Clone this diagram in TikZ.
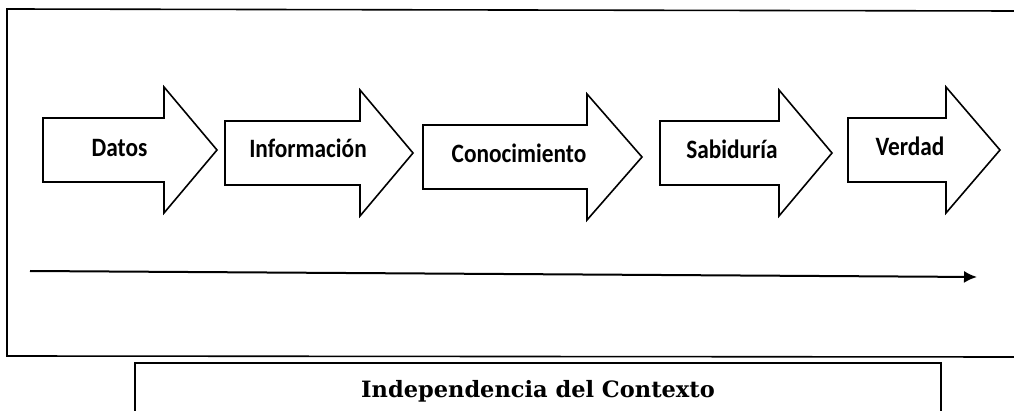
\documentclass[tikz,border=0pt]{standalone}
\usepackage{fontspec}
\usetikzlibrary{arrows.meta}
\newfontfamily\stagefont[FakeStretch=0.88]{Carlito}
\newfontfamily\contextfont{DejaVu Serif}

\begin{document}
\begin{tikzpicture}[x=1pt, y=-1pt,
	stagearrow/.style={draw=black, line width=1.6pt, fill=white, line join=miter},
	stagelabel/.style={anchor=base, inner sep=0pt, font=\stagefont\bfseries\fontsize{26.5}{26.5}\selectfont},
	flow/.style={line width=2pt, -{Latex[length=13pt, width=12pt]}}]
	\useasboundingbox (0,0) rectangle (1014,411);

	\draw[line width=1.6pt] (1014,11) -- (7,9) -- (7,356) -- (1014,357);
	\draw[line width=1.6pt] (135,411) -- (135,363) -- (941,363) -- (941,411);

	\foreach \xa/\xb/\xt/\yc/\xl/\yl/\lab/\nm in {43/164/217/150/119.5/157/Datos/datos, 225/360/413/153/308/158/Información/informacion, 423/587/642/157/519/163/Conocimiento/conocimiento, 660/779/832/153/732/159/Sabiduría/sabiduria, 848/946/1000/150/910/156/Verdad/verdad}
	{
		\draw[stagearrow] (\xa,\yc-32) -- (\xb,\yc-32) -- (\xb,\yc-63) -- (\xt,\yc) -- (\xb,\yc+63) -- (\xb,\yc+32) -- (\xa,\yc+32) -- cycle;
		\node[stagelabel] (\nm) at (\xl,\yl) {\lab};
	}

	\coordinate (flowstart) at (30,271);
	\coordinate (flowend) at (977,277);
	\draw[flow] (flowstart) -- (flowend);

	\node[anchor=base, inner sep=0pt, font=\contextfont\bfseries\fontsize{22.5}{22.5}\selectfont] (contexto) at (538,397) {Independencia del Contexto};
\end{tikzpicture}
\end{document}
